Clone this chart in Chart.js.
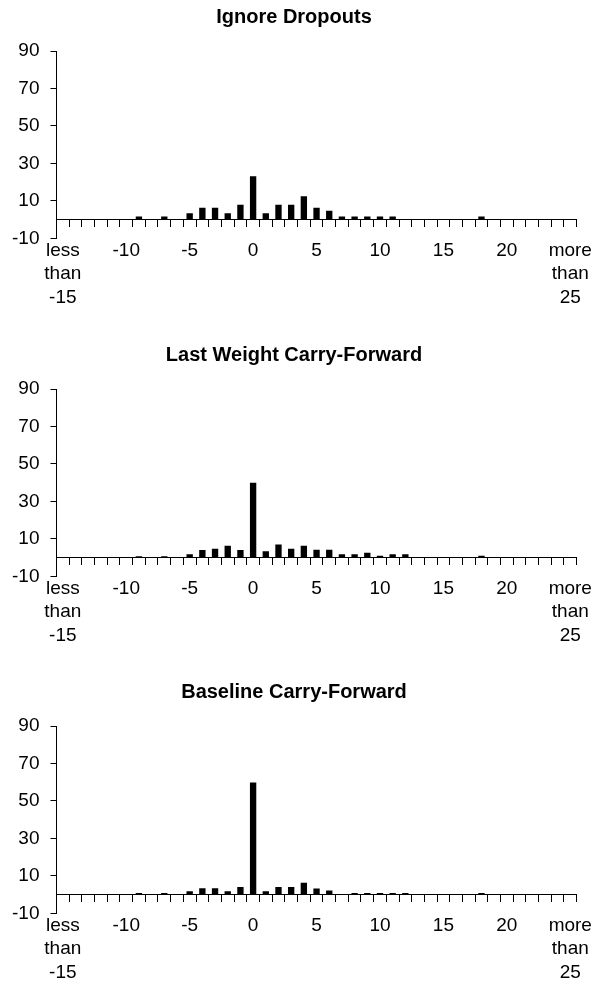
<!DOCTYPE html>
<html>
<head>
<meta charset="utf-8">
<script src="https://cdn.jsdelivr.net/npm/chart.js@4"></script>
<style>
html,body{margin:0;padding:0;background:#fff;overflow:hidden;width:593px;height:984px;position:relative}
canvas{position:absolute;left:0;display:block}
</style>
</head>
<body>
<canvas id="c1" width="593" height="310" style="top:0px"></canvas>
<canvas id="c2" width="593" height="310" style="top:338px"></canvas>
<canvas id="c3" width="593" height="310" style="top:675px"></canvas>
<script>
// Weight change categories (-15 = "less than -15", 25 = "more than 25")
const categories = [-15,-14,-13,-12,-11,-10,-9,-8,-7,-6,-5,-4,-3,-2,-1,0,1,2,3,4,5,6,7,8,9,10,11,12,13,14,15,16,17,18,19,20,21,22,23,24,25];

const tickValues = [-15, -10, -5, 0, 5, 10, 15, 20, 25];
const tickTexts = [['less','than','-15'], '-10', '-5', '0', '5', '10', '15', '20', ['more','than','25']];

const titles = ['Ignore Dropouts', 'Last Weight Carry-Forward', 'Baseline Carry-Forward'];

//                     -15 -14 -13 -12 -11 -10  -9  -8  -7  -6  -5  -4  -3  -2  -1    0   1   2   3    4   5   6   7   8   9  10  11  12  13  14  15  16  17  18  19  20  21  22  23  24  25
const ignoreDropouts = [0,  0,  0,  0,  0,  0, 1.7, 0, 1.7, 0, 3.4, 6.4, 6.4, 3.4, 8.0, 23.2, 3.4, 8.0, 8.0, 12.5, 6.4, 4.8, 1.7, 1.7, 1.7, 1.7, 1.7, 0, 0, 0, 0, 0, 0, 1.7, 0, 0, 0, 0, 0, 0, 0];
const lastWeightCF   = [0,  0,  0,  0,  0,  0, 0.8, 0, 0.8, 0, 1.8, 4.1, 4.8, 6.4, 4.1, 40.0, 3.4, 7.1, 4.8, 6.4, 4.2, 4.2, 1.9, 1.9, 2.7, 1.0, 1.9, 1.9, 0, 0, 0, 0, 0, 1.0, 0, 0, 0, 0, 0, 0, 0];
const baselineCF     = [0,  0,  0,  0,  0,  0, 0.9, 0, 0.9, 0, 1.8, 3.4, 3.4, 1.8, 4.1, 59.8, 1.8, 4.1, 4.1, 6.4, 3.3, 2.3, 0, 0.9, 0.9, 0.9, 0.9, 0.9, 0, 0, 0, 0, 0, 0.9, 0, 0, 0, 0, 0, 0, 0];

const yMin = -10, yMax = 90, yStep = 20;

const FONT = "'Liberation Sans', Arial, Helvetica, sans-serif";

function labelFor(index) {
  const k = tickValues.indexOf(categories[index]);
  return k >= 0 ? tickTexts[k] : '';
}

function makeChart(id, title, values) {
  return new Chart(document.getElementById(id), {
    type: 'bar',
    data: {
      labels: categories.map(String),
      datasets: [{
        data: values,
        backgroundColor: '#000',
        borderWidth: 0,
        barPercentage: 0.5,
        categoryPercentage: 1,
        xAxisID: 'x',
        yAxisID: 'y'
      }]
    },
    options: {
      responsive: false,
      animation: false,
      devicePixelRatio: 1,
      layout: { padding: { left: 1, right: 6, top: 0, bottom: 0 } },
      plugins: {
        legend: { display: false },
        tooltip: { enabled: false },
        title: {
          display: true,
          text: title,
          color: '#000',
          font: { family: FONT, size: 20, weight: 'bold', lineHeight: 1.2 },
          padding: { top: 5, bottom: 22 }
        }
      },
      scales: {
        x: {
          type: 'category',
          position: { y: 0 },
          offset: true,
          grid: { display: true, offset: true, drawOnChartArea: false, drawTicks: true, tickLength: 7, color: '#000', lineWidth: 1 },
          border: { display: true, color: '#000', width: 1 },
          ticks: { display: false, autoSkip: false }
        },
        x2: {
          type: 'category',
          position: 'bottom',
          offset: true,
          grid: { display: false, drawTicks: false, offset: true },
          border: { display: false },
          ticks: {
            autoSkip: false,
            maxRotation: 0,
            minRotation: 0,
            padding: 1,
            color: '#000',
            font: { family: FONT, size: 19, lineHeight: 1.22 },
            callback: function (value, index) { return labelFor(index); }
          }
        },
        y: {
          type: 'linear',
          position: 'left',
          min: yMin,
          max: yMax,
          grid: { display: true, drawOnChartArea: false, drawTicks: true, tickLength: 6, color: '#000', lineWidth: 1 },
          border: { display: true, color: '#000', width: 1 },
          ticks: {
            stepSize: yStep,
            padding: 11,
            color: '#000',
            font: { family: FONT, size: 19, lineHeight: 1.22 }
          }
        }
      }
    }
  });
}

makeChart('c1', titles[0], ignoreDropouts);
makeChart('c2', titles[1], lastWeightCF);
makeChart('c3', titles[2], baselineCF);
</script>
</body>
</html>
